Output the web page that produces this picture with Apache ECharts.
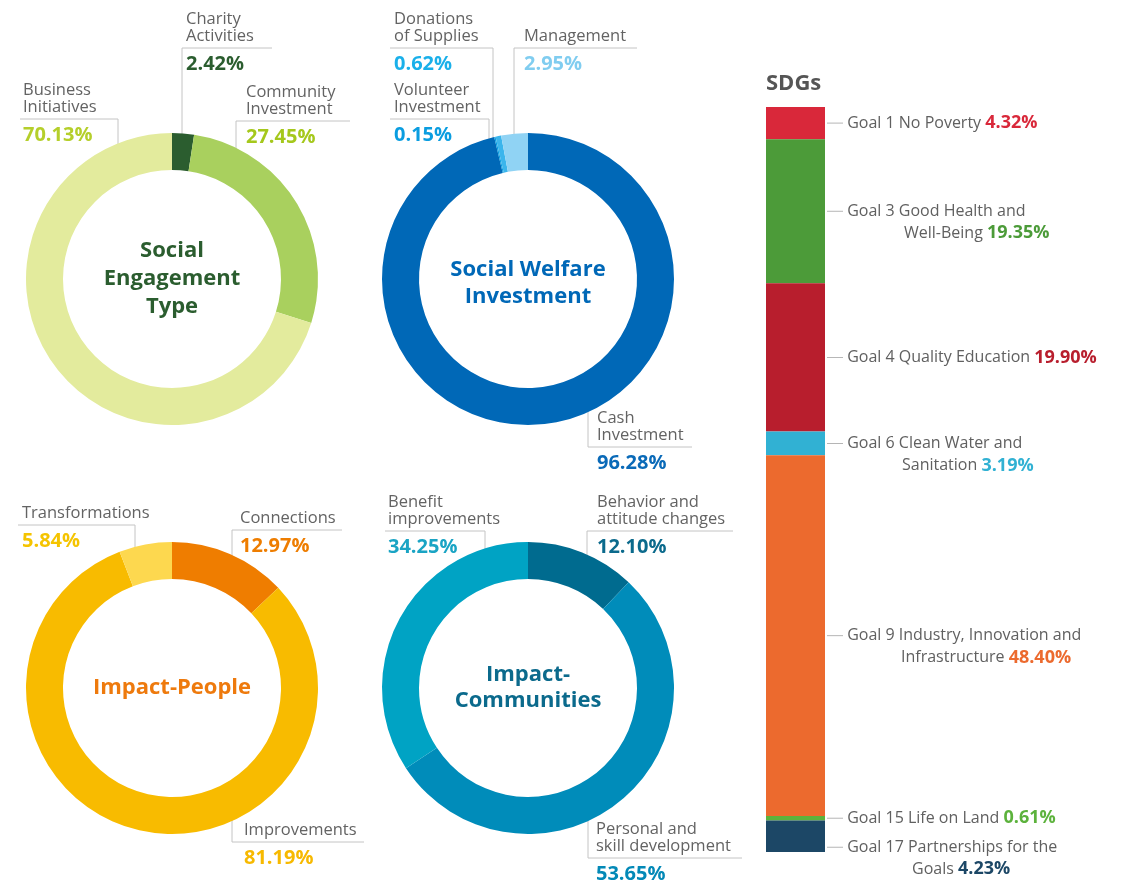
<!DOCTYPE html>
<html>
<head>
<meta charset="utf-8">
<script src="https://cdn.jsdelivr.net/npm/echarts@6/dist/echarts.min.js"></script>
<style>
  html, body { margin: 0; padding: 0; background: #fff; }
  #chart { width: 1130px; height: 885px; }
</style>
</head>
<body>
<div id="chart"></div>
<script>
  // 数据
  var engageNames = ['Charity\nActivities', 'Community\nInvestment', 'Business\nInitiatives'];
  var engageValues = [2.42, 27.45, 70.13];
  var welfareNames = ['Cash\nInvestment', 'Volunteer\nInvestment', 'Donations\nof Supplies', 'Management'];
  var welfareValues = [96.28, 0.15, 0.62, 2.95];
  var peopleNames = ['Connections', 'Improvements', 'Transformations'];
  var peopleValues = [12.97, 81.19, 5.84];
  var communityNames = ['Behavior and\nattitude changes', 'Personal and\nskill development', 'Benefit\nimprovements'];
  var communityValues = [12.10, 53.65, 34.25];
  var sdgNames = ['Goal 1 No Poverty', 'Goal 3 Good Health and\nWell-Being', 'Goal 4 Quality Education',
    'Goal 6 Clean Water and\nSanitation', 'Goal 9 Industry, Innovation and\nInfrastructure',
    'Goal 15 Life on Land', 'Goal 17 Partnerships for the\nGoals'];
  var sdgValues = [4.32, 19.35, 19.90, 3.19, 48.40, 0.61, 4.23];

  // 颜色
  var engageColors = ['#2b5d2f', '#a9d05e', '#e3eb9d'];
  var engageLabelColors = ['#2b5d2f', '#a5c81c', '#b5cf2b'];
  var welfareColors = ['#0068b7', '#0a9de0', '#3bb5ec', '#90d3f4'];
  var welfareLabelColors = ['#0a6ab8', '#0a9de0', '#1ab0ea', '#80cdf0'];
  var peopleColors = ['#ef7d00', '#f8bb00', '#fdd84f'];
  var peopleLabelColors = ['#ee7d00', '#f7b900', '#f5c400'];
  var communityColors = ['#006b8f', '#008cba', '#00a3c4'];
  var communityLabelColors = ['#0b6a8c', '#0389b7', '#1aa4c4'];
  var sdgColors = ['#d9283a', '#4c9b39', '#b81e2d', '#31b1d3', '#ec6a2e', '#5cb23c', '#1c4766'];

  var FONT = '"Open Sans", sans-serif';
  var R_IN = 109, R_OUT = 146;

  // 标注位置: vx 竖线x, hy 横线y, hx 横线另一端, tx 文字x
  var engageSpots = [
    {vx: 182, hy: 48, hx: 272, tx: 186},
    {vx: 236, hy: 121, hx: 350, tx: 246},
    {vx: 118, hy: 119, hx: 20, tx: 23}
  ];
  var welfareSpots = [
    {vx: 588, hy: 447, hx: 692, tx: 597},
    {vx: 489, hy: 119, hx: 390, tx: 394},
    {vx: 493, hy: 48, hx: 390, tx: 394},
    {vx: 514, hy: 48, hx: 637, tx: 524}
  ];
  var peopleSpots = [
    {vx: 232, hy: 530, hx: 342, tx: 240},
    {vx: 232, hy: 842, hx: 364, tx: 244},
    {vx: 135, hy: 525, hx: 18, tx: 22}
  ];
  var communitySpots = [
    {vx: 587, hy: 531, hx: 733, tx: 597},
    {vx: 588, hy: 858, hx: 742, tx: 596},
    {vx: 485, hy: 531, hx: 385, tx: 388}
  ];

  function donut(names, values, colors, labelColors, center, spots) {
    var rich = {n: {fontSize: 16.5, lineHeight: 17, color: '#636363', fontFamily: FONT}};
    labelColors.forEach(function (c, i) {
      rich['v' + i] = {fontSize: 20, fontWeight: 'bold', lineHeight: 38, color: c, fontFamily: FONT};
    });
    return {
      type: 'pie',
      center: center,
      radius: [R_IN, R_OUT],
      startAngle: 90,
      clockwise: true,
      silent: true,
      avoidLabelOverlap: false,
      data: names.map(function (n, i) {
        return {name: n, value: values[i], itemStyle: {color: colors[i]}};
      }),
      label: {
        show: true,
        position: 'outside',
        formatter: function (p) {
          return '{n|' + p.name + '}\n{v' + p.dataIndex + '|' + p.value.toFixed(2) + '%}';
        },
        rich: rich
      },
      labelLine: {show: true, lineStyle: {color: '#c4c4c4', width: 1}},
      labelLayout: function (p) {
        var s = spots[p.dataIndex];
        var lines = names[p.dataIndex].split('\n').length;
        var dx = s.vx - center[0];
        var half = Math.sqrt(R_OUT * R_OUT - dx * dx);
        var ringY = s.hy < center[1] ? center[1] - half + 11 : center[1] + half - 11;
        return {
          x: s.tx,
          y: s.hy - lines * 17 - 3,
          align: 'left',
          verticalAlign: 'top',
          labelLinePoints: [[s.vx, ringY], [s.vx, s.hy], [s.hx, s.hy]]
        };
      }
    };
  }

  var sdgIndent = [0, 77, 0, 75, 74, 0, 85];
  var sdgDrop = [0, 0, 0, 0, 0, 0, 11];

  var barSeries = sdgNames.map(function (name, i) {
    return {
      type: 'bar',
      stack: 'sdg',
      barWidth: '100%',
      silent: true,
      itemStyle: {color: sdgColors[i]},
      data: [sdgValues[i]],
      label: {
        show: true,
        position: 'right',
        distance: 2,
        verticalAlign: 'top',
        align: 'left',
        offset: [0, sdgDrop[i] - 11],
        formatter: function () {
          var parts = name.split('\n');
          var val = '{v|' + sdgValues[i].toFixed(2) + '%}';
          if (parts.length === 1) {
            return '{ln|}{t| ' + parts[0] + ' }' + val;
          }
          return '{ln|}{t| ' + parts[0] + '}\n{ind|}{t|' + parts[1] + ' }' + val;
        },
        rich: {
          ln: {width: 16, height: 1, backgroundColor: '#b5b5b5', lineHeight: 22},
          ind: {width: sdgIndent[i], lineHeight: 22},
          t: {fontSize: 16, color: '#606060', lineHeight: 22, fontFamily: FONT},
          v: {fontSize: 18, fontWeight: 'bold', color: sdgColors[i], lineHeight: 22, fontFamily: FONT}
        }
      }
    };
  });

  var chart = echarts.init(document.getElementById('chart'));
  var option = {
    animation: false,
    textStyle: {fontFamily: FONT},
    grid: {left: 766, top: 107, width: 59, height: 745},
    xAxis: {type: 'category', data: ['SDGs'], show: false},
    yAxis: {type: 'value', min: 0, max: 100, inverse: true, show: false},
    graphic: [
      {type: 'text', x: 766, y: 84, style: {text: 'SDGs', align: 'left', verticalAlign: 'middle',
        fontSize: 22, fontWeight: 'bold', fontFamily: FONT, fill: '#555555'}},
      {type: 'text', x: 172, y: 279, style: {text: 'Social\nEngagement\nType', align: 'center', verticalAlign: 'middle',
        fontSize: 22, fontWeight: 'bold', fontFamily: FONT, lineHeight: 28, fill: '#2b5d2f'}},
      {type: 'text', x: 528, y: 283, style: {text: 'Social Welfare\nInvestment', align: 'center', verticalAlign: 'middle',
        fontSize: 22, fontWeight: 'bold', fontFamily: FONT, lineHeight: 27, fill: '#0068b7'}},
      {type: 'text', x: 172, y: 688, style: {text: 'Impact-People', align: 'center', verticalAlign: 'middle',
        fontSize: 22, fontWeight: 'bold', fontFamily: FONT, fill: '#ee7a0d'}},
      {type: 'text', x: 528, y: 688, style: {text: 'Impact-\nCommunities', align: 'center', verticalAlign: 'middle',
        fontSize: 22, fontWeight: 'bold', fontFamily: FONT, lineHeight: 26, fill: '#0b6a8c'}}
    ],
    series: [
      donut(engageNames, engageValues, engageColors, engageLabelColors, [172, 279], engageSpots),
      donut(welfareNames, welfareValues, welfareColors, welfareLabelColors, [528, 279], welfareSpots),
      donut(peopleNames, peopleValues, peopleColors, peopleLabelColors, [172, 688], peopleSpots),
      donut(communityNames, communityValues, communityColors, communityLabelColors, [528, 688], communitySpots)
    ].concat(barSeries)
  };
  chart.setOption(option);
</script>
</body>
</html>
